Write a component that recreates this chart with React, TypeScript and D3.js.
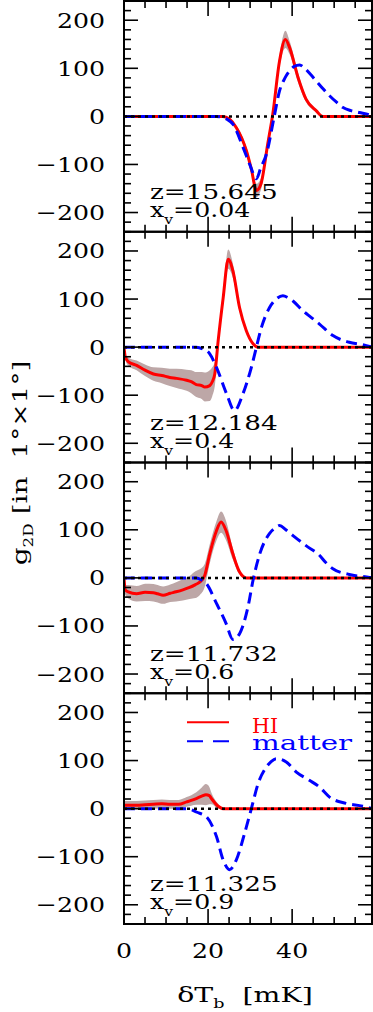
import React from "react";
import * as d3 from "d3";

// panel labels
const zLabels = ["15.645", "12.184", "11.732", "11.325"];
const xvLabels = ["0.04", "0.4", "0.6", "0.9"];

// HI curves (red) with 1-sigma half width (grey band)
const hiX1 = [0, 20, 23.5, 25, 26.7, 28, 29.1, 30.3, 31.5, 32.6, 34.2, 35.4, 37.0, 38.4, 39.4, 41.4, 43.3, 45.7, 47.3, 50, 59];
const hiY1 = [0, 0, 0, -5, -23, -45, -71, -110, -154, -140, -57, 5, 115, 160, 143, 81, 36, 12, 0, 0, 0];
const hiE1 = [0, 0, 1, 2, 4, 6, 8, 10, 14, 12, 10, 8, 12, 18, 14, 10, 6, 3, 1, 0, 0];

const hiX2 = [0, 0.3, 1, 3, 5, 7, 9, 10.9, 12.5, 14.9, 16, 17.2, 18.5, 19.2, 20.4, 21.0, 21.6, 22.4, 23.6, 24.8, 25.9, 27.5, 29.1, 30.7, 31.9, 35, 59];
const hiY2 = [0, -20, -30, -38, -48, -56, -59, -63, -65, -69, -72, -78, -80, -83, -80, -72, -56, 13, 103, 183, 159, 82, 34, 7, 0, 0, 0];
const hiE2 = [0, 5, 8, 10, 12, 14, 16, 18, 20, 22, 24, 26, 28, 30, 32, 30, 25, 15, 15, 20, 15, 8, 4, 2, 1, 0, 0];

const hiX3 = [0, 0.3, 1, 3, 5, 7, 8, 9.3, 11, 12.4, 14, 15.6, 17, 18, 19.2, 20.4, 22, 23.1, 24.3, 25.9, 27.5, 29.1, 32, 59];
const hiY3 = [0, -25, -29, -33, -30, -31, -33, -36, -32, -29, -25, -20, -14, -9, 5, 50, 98, 116, 98, 50, 12, 0, 0, 0];
const hiE3 = [0, 10, 14, 16, 18, 18, 18, 18, 18, 20, 22, 24, 28, 27, 24, 20, 20, 22, 20, 12, 5, 1, 0, 0];

const hiX4 = [0, 3, 5, 7, 9, 10.9, 13, 14.9, 16, 17.2, 18.5, 19.5, 20.3, 20.8, 22.4, 23.6, 26, 59];
const hiY4 = [7, 7, 8, 9, 10, 9, 9, 14, 17, 21, 26, 29, 27, 21, 5, 0, 0, 0];
const hiE4 = [9, 9, 9, 9, 9, 9, 9, 10, 11, 13, 18, 22, 18, 12, 5, 1, 0, 0];

// matter curves (blue dashed)
const mX1 = [0, 22, 22.8, 24.5, 25.9, 28.3, 30, 31.5, 32.5, 33.9, 35.7, 37.0, 38.3, 39.4, 40.5, 41.8, 42.9, 44.3, 45.7, 47.3, 48.9, 50.5, 52.0, 54, 56.0, 58.8, 59];
const mY1 = [0, 0, -1, -6, -16, -64, -102, -130, -108, -78, -2, 53, 80, 95, 104, 107, 101, 88, 74, 58, 43, 30, 19, 12, 8, 1, 0];

const mX2 = [0, 17.2, 18.8, 20.4, 22.0, 24.4, 26.3, 28.3, 30.3, 31.5, 32.7, 34.6, 36.2, 37.8, 39, 40.2, 42.5, 44.5, 46.5, 49.7, 53.6, 56.8, 59];
const mY2 = [0, 0, -4, -14, -42, -97, -132, -97, -42, 0, 41, 82, 100, 107, 103, 96, 76, 62, 48, 24, 10, 5, 0];

const mX3 = [0, 17.2, 18.4, 19.6, 22.0, 24.3, 25.9, 27.5, 29.5, 30.7, 32.3, 34.6, 36, 37.0, 38.5, 40.2, 43.3, 46.5, 48, 49.7, 53.6, 58.4, 59];
const mY3 = [0, 0, -4, -12, -53, -95, -128, -116, -60, -5, 50, 92, 104, 109, 100, 88, 67, 47, 32, 19, 7, 1, 0];

const mX4 = [0, 14.9, 16, 17.2, 19.6, 22.0, 23.6, 25.1, 26.7, 28.7, 30.3, 31.9, 33.9, 35, 36.2, 37.5, 38.6, 41.0, 44.1, 46.5, 48.9, 52.8, 56.8, 59];
const mY4 = [0, 0, -2, -7, -17, -58, -107, -127, -107, -51, 0, 52, 87, 98, 104, 102, 97, 76, 59, 45, 24, 11, 5, 0];

const yTickLabels = [200, 100, 0, -100, -200];
const xTickLabels = [0, 20, 40];

const panels = [
  { hx: hiX1, hy: hiY1, he: hiE1, mx: mX1, my: mY1 },
  { hx: hiX2, hy: hiY2, he: hiE2, mx: mX2, my: mY2 },
  { hx: hiX3, hy: hiY3, he: hiE3, mx: mX3, my: mY3 },
  { hx: hiX4, hy: hiY4, he: hiE4, mx: mX4, my: mY4 }
];

const W = 373;
const H = 1012;
const left = 124;
const right = 372;
const top = 1;
const bottom = 924;
const ph = (bottom - top) / 4;
const FONT = "DejaVu Serif";

const x = d3.scaleLinear().domain([0, 59]).range([left, right]);

const T = ({ x, y, anchor = "start", size = 21, fill = "#000", sx = 1.2, children }: any) => (
  <text
    transform={`translate(${x},${y}) scale(${sx},1)`}
    textAnchor={anchor}
    fontSize={size}
    fontFamily={FONT}
    fill={fill}
  >
    {children}
  </text>
);

function Panel({ i, p }: any) {
  const y0 = top + i * ph;
  const y = d3.scaleLinear().domain([-240, 240]).range([y0 + ph, y0]);
  const hi = p.hx.map((v: number, k: number) => [v, p.hy[k], p.he[k]]);
  const mat = p.mx.map((v: number, k: number) => [v, p.my[k]]);
  const line = d3
    .line<any>()
    .x(d => x(d[0]))
    .y(d => y(d[1]))
    .curve(d3.curveMonotoneX);
  const band = d3
    .area<any>()
    .x(d => x(d[0]))
    .y0(d => y(d[1] - d[2]))
    .y1(d => y(d[1] + d[2]))
    .curve(d3.curveMonotoneX);
  const yMinor = d3.range(-240, 241, 20);
  const xMinor = d3.range(0, 59, 5);

  return (
    <g>
      <clipPath id={`clip${i}`}>
        <rect x={left} y={y0} width={right - left} height={ph} />
      </clipPath>
      <g clipPath={`url(#clip${i})`}>
        <path d={band(hi) || ""} fill="#bda7a7" />
        <path d={line(hi) || ""} fill="none" stroke="#ff0000" strokeWidth={3} />
        <path d={line(mat) || ""} fill="none" stroke="#0000ff" strokeWidth={3} strokeDasharray="11,6" />
        <line x1={left} x2={right} y1={y(0)} y2={y(0)} stroke="#000" strokeWidth={2.5} strokeDasharray="3,4" />
      </g>
      {yMinor.map(v => {
        const len = v % 100 === 0 ? 14 : 7;
        return (
          <g key={"y" + v}>
            <line x1={left} x2={left + len} y1={y(v)} y2={y(v)} stroke="#000" strokeWidth={1.6} />
            <line x1={right} x2={right - len} y1={y(v)} y2={y(v)} stroke="#000" strokeWidth={1.6} />
          </g>
        );
      })}
      {xMinor.map(v => {
        const len = v % 20 === 0 ? 15 : 7;
        return (
          <g key={"x" + v}>
            <line x1={x(v)} x2={x(v)} y1={y0} y2={y0 + len} stroke="#000" strokeWidth={1.6} />
            <line x1={x(v)} x2={x(v)} y1={y0 + ph} y2={y0 + ph - len} stroke="#000" strokeWidth={1.6} />
          </g>
        );
      })}
      <rect x={left} y={y0} width={right - left} height={ph} fill="none" stroke="#000" strokeWidth={2} />
      {yTickLabels.map(v => (
        <T key={"l" + v} x={105} y={y(v) + 7.5} anchor="end">
          {v < 0 ? "\u2212" + Math.abs(v) : String(v)}
        </T>
      ))}
      <T x={150} y={y0 + 198} sx={1.25}>z={zLabels[i]}</T>
      <text
        transform={`translate(150,${y0 + 216}) scale(1.2,1)`}
        fontSize={21}
        fontFamily={FONT}
      >
        x
        <tspan dy={7} fontSize={13}>v</tspan>
        <tspan dy={-7}>={xvLabels[i]}</tspan>
      </text>
    </g>
  );
}

export default function App() {
  const ly = top + 3 * ph;
  return (
    <svg
      width={W}
      height={H}
      style={{ position: "absolute", left: 0, top: 0, background: "#fff" }}
    >
      <rect width={W} height={H} fill="#fff" />
      {panels.map((p, i) => (
        <Panel key={i} i={i} p={p} />
      ))}
      {/* legend */}
      <line x1={187} x2={229} y1={ly + 29} y2={ly + 29} stroke="#ff0000" strokeWidth={2} />
      <text x={252} y={ly + 40} fontSize={20} fontFamily={FONT} fill="#ff0000" textLength={26} lengthAdjust="spacingAndGlyphs">
        HI
      </text>
      <line x1={187} x2={229} y1={ly + 48} y2={ly + 48} stroke="#0000ff" strokeWidth={2} strokeDasharray="16,10" />
      <text x={252} y={ly + 57} fontSize={20} fontFamily={FONT} fill="#0000ff" textLength={100} lengthAdjust="spacingAndGlyphs">
        matter
      </text>
      {xTickLabels.map(v => (
        <T key={"xt" + v} x={x(v)} y={958} anchor="middle">
          {String(v)}
        </T>
      ))}
      <text transform="translate(245,1002) scale(1.35,1)" textAnchor="middle" fontSize={21} fontFamily={FONT}>
        δT<tspan dy={6} fontSize={13}>b</tspan>
        <tspan dy={-6}>{"\u00a0\u00a0[mK]"}</tspan>
      </text>
      <text transform="translate(27,463) rotate(-90) scale(1.4,1)" textAnchor="middle" fontSize={20} fontFamily={FONT}>
        g<tspan dy={6} fontSize={12}>2D</tspan>
        <tspan dy={-6}>{"\u00a0[in\u00a0\u00a01°×1°]"}</tspan>
      </text>
    </svg>
  );
}
